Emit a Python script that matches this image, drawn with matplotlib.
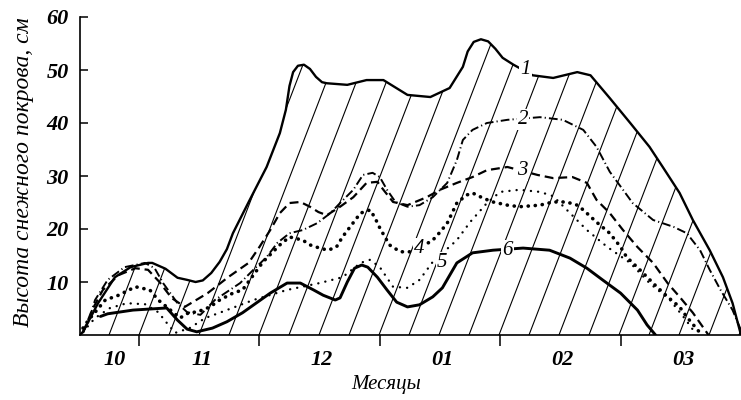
import numpy as np
import matplotlib
matplotlib.use("Agg")
import matplotlib.pyplot as plt
from matplotlib.patches import Polygon

# Time axis in months: 0 = 1 Nov, 1 = 1 Dec, 2 = 1 Jan, 3 = 1 Feb, 4 = 1 Mar, 5 = 1 Apr
month_labels = ["10", "11", "12", "01", "02", "03"]
month_label_pos = [-0.2, 0.52, 1.52, 2.52, 3.52, 4.52]
month_bounds = [0, 1, 2, 3, 4]
y_ticks = [10, 20, 30, 40, 50, 60]

# Snow depth, cm
c1_x = [-0.49, -0.465, -0.34, -0.20, -0.07, 0.075, 0.11, 0.22, 0.32, 0.40, 0.47, 0.53,
        0.60, 0.67, 0.73, 0.78, 0.92, 1.06, 1.17, 1.22, 1.25, 1.28, 1.32, 1.37, 1.42,
        1.47, 1.52, 1.56, 1.73, 1.89, 2.03, 2.23, 2.42, 2.58, 2.69, 2.73, 2.78, 2.84,
        2.90, 2.96, 3.02, 3.11, 3.27, 3.44, 3.64, 3.75, 3.91, 4.08, 4.24, 4.35, 4.49,
        4.60, 4.74, 4.85, 4.93, 5.0]
c1_y = [0, 0.6, 6.0, 10.9, 12.8, 13.6, 13.6, 12.5, 10.8, 10.4, 10.0, 10.3,
        11.7, 13.8, 16.2, 19.2, 25.5, 31.7, 38.1, 42.5, 47.0, 49.6, 50.8, 51.0, 50.2,
        48.7, 47.7, 47.5, 47.2, 48.1, 48.1, 45.3, 44.9, 46.6, 50.6, 53.5, 55.3, 55.8,
        55.4, 54.0, 52.3, 51.0, 49.0, 48.5, 49.6, 49.0, 44.7, 40.0, 35.5, 31.7, 26.8,
        21.7, 16.0, 10.9, 6.0, 0]

c2_x = [-0.47, -0.42, -0.365, -0.26, -0.12, 0.05, 0.13, 0.20, 0.26, 0.32, 0.40, 0.51,
        0.63, 0.84, 0.95, 1.06, 1.15, 1.25, 1.36, 1.48, 1.59, 1.67, 1.78, 1.86, 1.94,
        2.0, 2.06, 2.13, 2.23, 2.33, 2.44, 2.56, 2.64, 2.69, 2.77, 2.89, 3.06, 3.33,
        3.52, 3.69, 3.80, 3.91, 4.02, 4.10, 4.27, 4.44, 4.55, 4.66, 4.74, 4.83, 4.93, 5.0]
c2_y = [0.4, 2.5, 6.6, 10.4, 12.8, 13.6, 12.6, 9.8, 7.9, 6.0, 4.3, 3.8,
        6.6, 9.8, 12.3, 14.7, 17.4, 19.2, 19.8, 21.1, 23.0, 24.9, 27.4, 30.2, 30.6,
        29.8, 27.4, 25.1, 24.2, 24.5, 26.0, 28.7, 33.0, 36.8, 38.7, 40.0, 40.6, 41.1,
        40.6, 38.7, 35.5, 30.8, 27.4, 24.9, 21.7, 20.4, 19.2, 16.0, 12.3, 8.5, 4.7, 0.9]

c3_x = [-0.465, -0.39, -0.30, -0.17, -0.03, 0.075, 0.17, 0.27, 0.38, 0.57, 0.74, 0.91,
        1.0, 1.09, 1.17, 1.25, 1.34, 1.42, 1.49, 1.56, 1.67, 1.78, 1.89, 1.98, 2.03,
        2.11, 2.23, 2.39, 2.50, 2.64, 2.77, 2.89, 3.06, 3.31, 3.44, 3.60, 3.72, 3.80,
        3.91, 4.02, 4.14, 4.27, 4.39, 4.49, 4.60, 4.73]
c3_y = [0.4, 4.7, 8.5, 11.3, 12.6, 12.3, 10.0, 7.0, 5.3, 7.9, 10.9, 13.6,
        16.6, 19.8, 23.0, 24.9, 25.1, 24.2, 23.2, 22.6, 24.2, 26.0, 28.7, 28.9, 27.4,
        25.1, 24.5, 26.0, 27.4, 28.7, 29.8, 31.1, 31.7, 30.2, 29.6, 29.8, 28.7, 25.5,
        23.0, 19.8, 16.6, 13.6, 9.8, 7.2, 4.2, 0]

c4_x = [-0.465, -0.42, -0.28, -0.17, -0.03, 0.09, 0.16, 0.23, 0.34, 0.42, 0.48, 0.59,
        0.67, 0.78, 0.86, 1.03, 1.17, 1.25, 1.36, 1.42, 1.50, 1.57, 1.64, 1.69, 1.84,
        1.92, 1.96, 2.0, 2.08, 2.17, 2.25, 2.33, 2.44, 2.50, 2.56, 2.64, 2.72, 2.77,
        2.86, 2.94, 3.06, 3.16, 3.33, 3.44, 3.55, 3.64, 3.69, 3.80, 3.91, 4.0, 4.05,
        4.16, 4.30, 4.39, 4.49, 4.55, 4.66]
c4_y = [1.3, 2.8, 6.6, 7.5, 9.1, 8.5, 6.6, 5.3, 3.2, 4.3, 4.3, 5.3,
        6.6, 7.9, 8.5, 13.8, 17.0, 18.5, 17.9, 17.0, 16.4, 16.0, 16.6, 18.5, 23.0,
        23.6, 22.1, 20.2, 17.0, 15.7, 15.7, 16.4, 17.9, 19.4, 21.1, 24.9, 26.4, 26.8,
        25.8, 25.1, 24.5, 24.2, 24.5, 25.1, 25.1, 24.5, 23.6, 21.3, 19.2, 16.6, 14.7,
        12.3, 9.1, 7.2, 5.3, 3.4, 0.4]

c5_x = [-0.465, -0.365, -0.24, -0.10, 0.05, 0.16, 0.23, 0.30, 0.42, 0.55, 0.67, 0.95,
        1.23, 1.50, 1.69, 1.84, 1.92, 2.0, 2.11, 2.23, 2.33, 2.44, 2.64, 2.75, 2.89,
        3.0, 3.16, 3.33, 3.44, 3.58, 3.72, 3.89, 4.08, 4.24, 4.41, 4.53, 4.62]
c5_y = [0.6, 3.2, 5.1, 6.0, 5.8, 4.3, 2.3, 0.4, 1.3, 3.2, 4.2, 6.6,
        8.5, 9.8, 10.9, 13.6, 14.2, 12.8, 9.1, 8.9, 10.4, 13.8, 17.9, 21.3, 24.9,
        27.0, 27.4, 27.0, 26.2, 23.0, 19.8, 16.6, 13.6, 9.8, 6.6, 3.2, 0.4]

c6_x = [-0.32, -0.26, -0.05, 0.23, 0.32, 0.40, 0.48, 0.61, 0.73, 0.86, 1.09, 1.23,
        1.34, 1.45, 1.53, 1.63, 1.67, 1.73, 1.79, 1.85, 1.90, 1.98, 2.06, 2.14, 2.23,
        2.33, 2.44, 2.52, 2.64, 2.77, 2.94, 3.19, 3.41, 3.58, 3.72, 3.85, 4.0, 4.14,
        4.22, 4.29]
c6_y = [3.5, 4.0, 4.7, 5.1, 2.8, 1.1, 0.6, 1.3, 2.5, 4.2, 7.9, 9.8,
        9.8, 8.5, 7.5, 6.6, 7.0, 10.0, 12.6, 13.2, 12.8, 10.9, 8.5, 6.2, 5.3,
        5.7, 7.2, 8.9, 13.6, 15.5, 16.0, 16.4, 16.0, 14.5, 12.6, 10.4, 7.9, 4.7,
        1.9, 0]

# Curve numbers placed on the lines
curve_tags = ["1", "2", "3", "4", "5", "6"]
tag_x = [3.21, 3.19, 3.18, 2.33, 2.52, 3.06]
tag_y = [50.0, 40.6, 31.1, 16.4, 13.6, 16.0]

serif = ["Liberation Serif", "DejaVu Serif"]

W, H = 741, 400
fig = plt.figure(figsize=(W / 100, H / 100), dpi=100)
ax = fig.add_axes([80 / W, 1 - 335 / H, 1 - 80 / W, (335 - 17) / H])
ax.set_xlim(-0.49, 5.0)
ax.set_ylim(0, 60)

# Diagonal hatching under the total snow-cover curve
ax.figure.canvas.draw()
p0 = ax.transData.transform((0, 0))
p1 = ax.transData.transform((1, 1))
px_month = p1[0] - p0[0]
px_cm = p1[1] - p0[1]
slope_px = 2.6
spacing_px = 30.0
dm = spacing_px / px_month
run = 60 * px_cm / (slope_px * px_month)
region = Polygon(np.column_stack([c1_x, c1_y]), closed=True,
                 facecolor="none", edgecolor="none")
ax.add_patch(region)
for k in range(-12, 25):
    m0 = k * dm
    ln, = ax.plot([m0, m0 + run], [0, 60], color="black", lw=0.8, zorder=1)
    ln.set_clip_path(region)

ax.plot(c1_x, c1_y, color="black", lw=1.7, zorder=3,
        solid_capstyle="round", solid_joinstyle="round")
ax.plot(c2_x, c2_y, color="black", lw=1.4, zorder=3,
        linestyle=(0, (4.5, 1.6, 0.6, 1.6)))
ax.plot(c3_x, c3_y, color="black", lw=1.6, zorder=3,
        linestyle=(0, (4.0, 2.2)))
ax.plot(c4_x, c4_y, color="black", lw=2.6, zorder=3,
        linestyle=(0, (0.05, 1.9)), dash_capstyle="round")
ax.plot(c5_x, c5_y, color="black", lw=1.7, zorder=3,
        linestyle=(0, (0.05, 3.0)), dash_capstyle="round")
ax.plot(c6_x, c6_y, color="black", lw=2.1, zorder=3,
        solid_capstyle="round", solid_joinstyle="round")

for t, x, y in zip(curve_tags, tag_x, tag_y):
    ax.text(x, y, t, fontsize=15, fontstyle="italic", family=serif,
            ha="center", va="center", zorder=5,
            bbox=dict(boxstyle="square,pad=0.05", facecolor="white", edgecolor="none"))

for s in ("top", "right"):
    ax.spines[s].set_visible(False)
ax.spines["left"].set_linewidth(1.2)
ax.spines["bottom"].set_linewidth(1.2)

ax.set_yticks(y_ticks)
ax.set_yticklabels([str(v) for v in y_ticks])
ax.tick_params(axis="y", direction="in", length=6, width=1.1, pad=8,
               labelsize=16)
ax.set_xticks(month_bounds)
ax.set_xticklabels([])
ax.set_xticks(month_label_pos, minor=True)
ax.set_xticklabels(month_labels, minor=True)
ax.tick_params(axis="x", which="major", direction="out", length=8, width=1.1)
ax.tick_params(axis="x", which="minor", length=0, pad=11, labelsize=16)
for lab in ax.get_xticklabels(minor=True) + ax.get_yticklabels():
    lab.set_fontstyle("italic")
    lab.set_fontweight("bold")
    lab.set_family(serif)

fig.text(386 / W, 1 - 385 / H, "Месяцы", fontsize=15, fontstyle="italic",
         family=serif, ha="center", va="center")
fig.text(24 / W, 1 - 172 / H, "Высота снежного покрова, см", fontsize=17,
         fontstyle="italic", family=serif, ha="center", va="center", rotation=90)

fig.savefig("out.png", dpi=100)
